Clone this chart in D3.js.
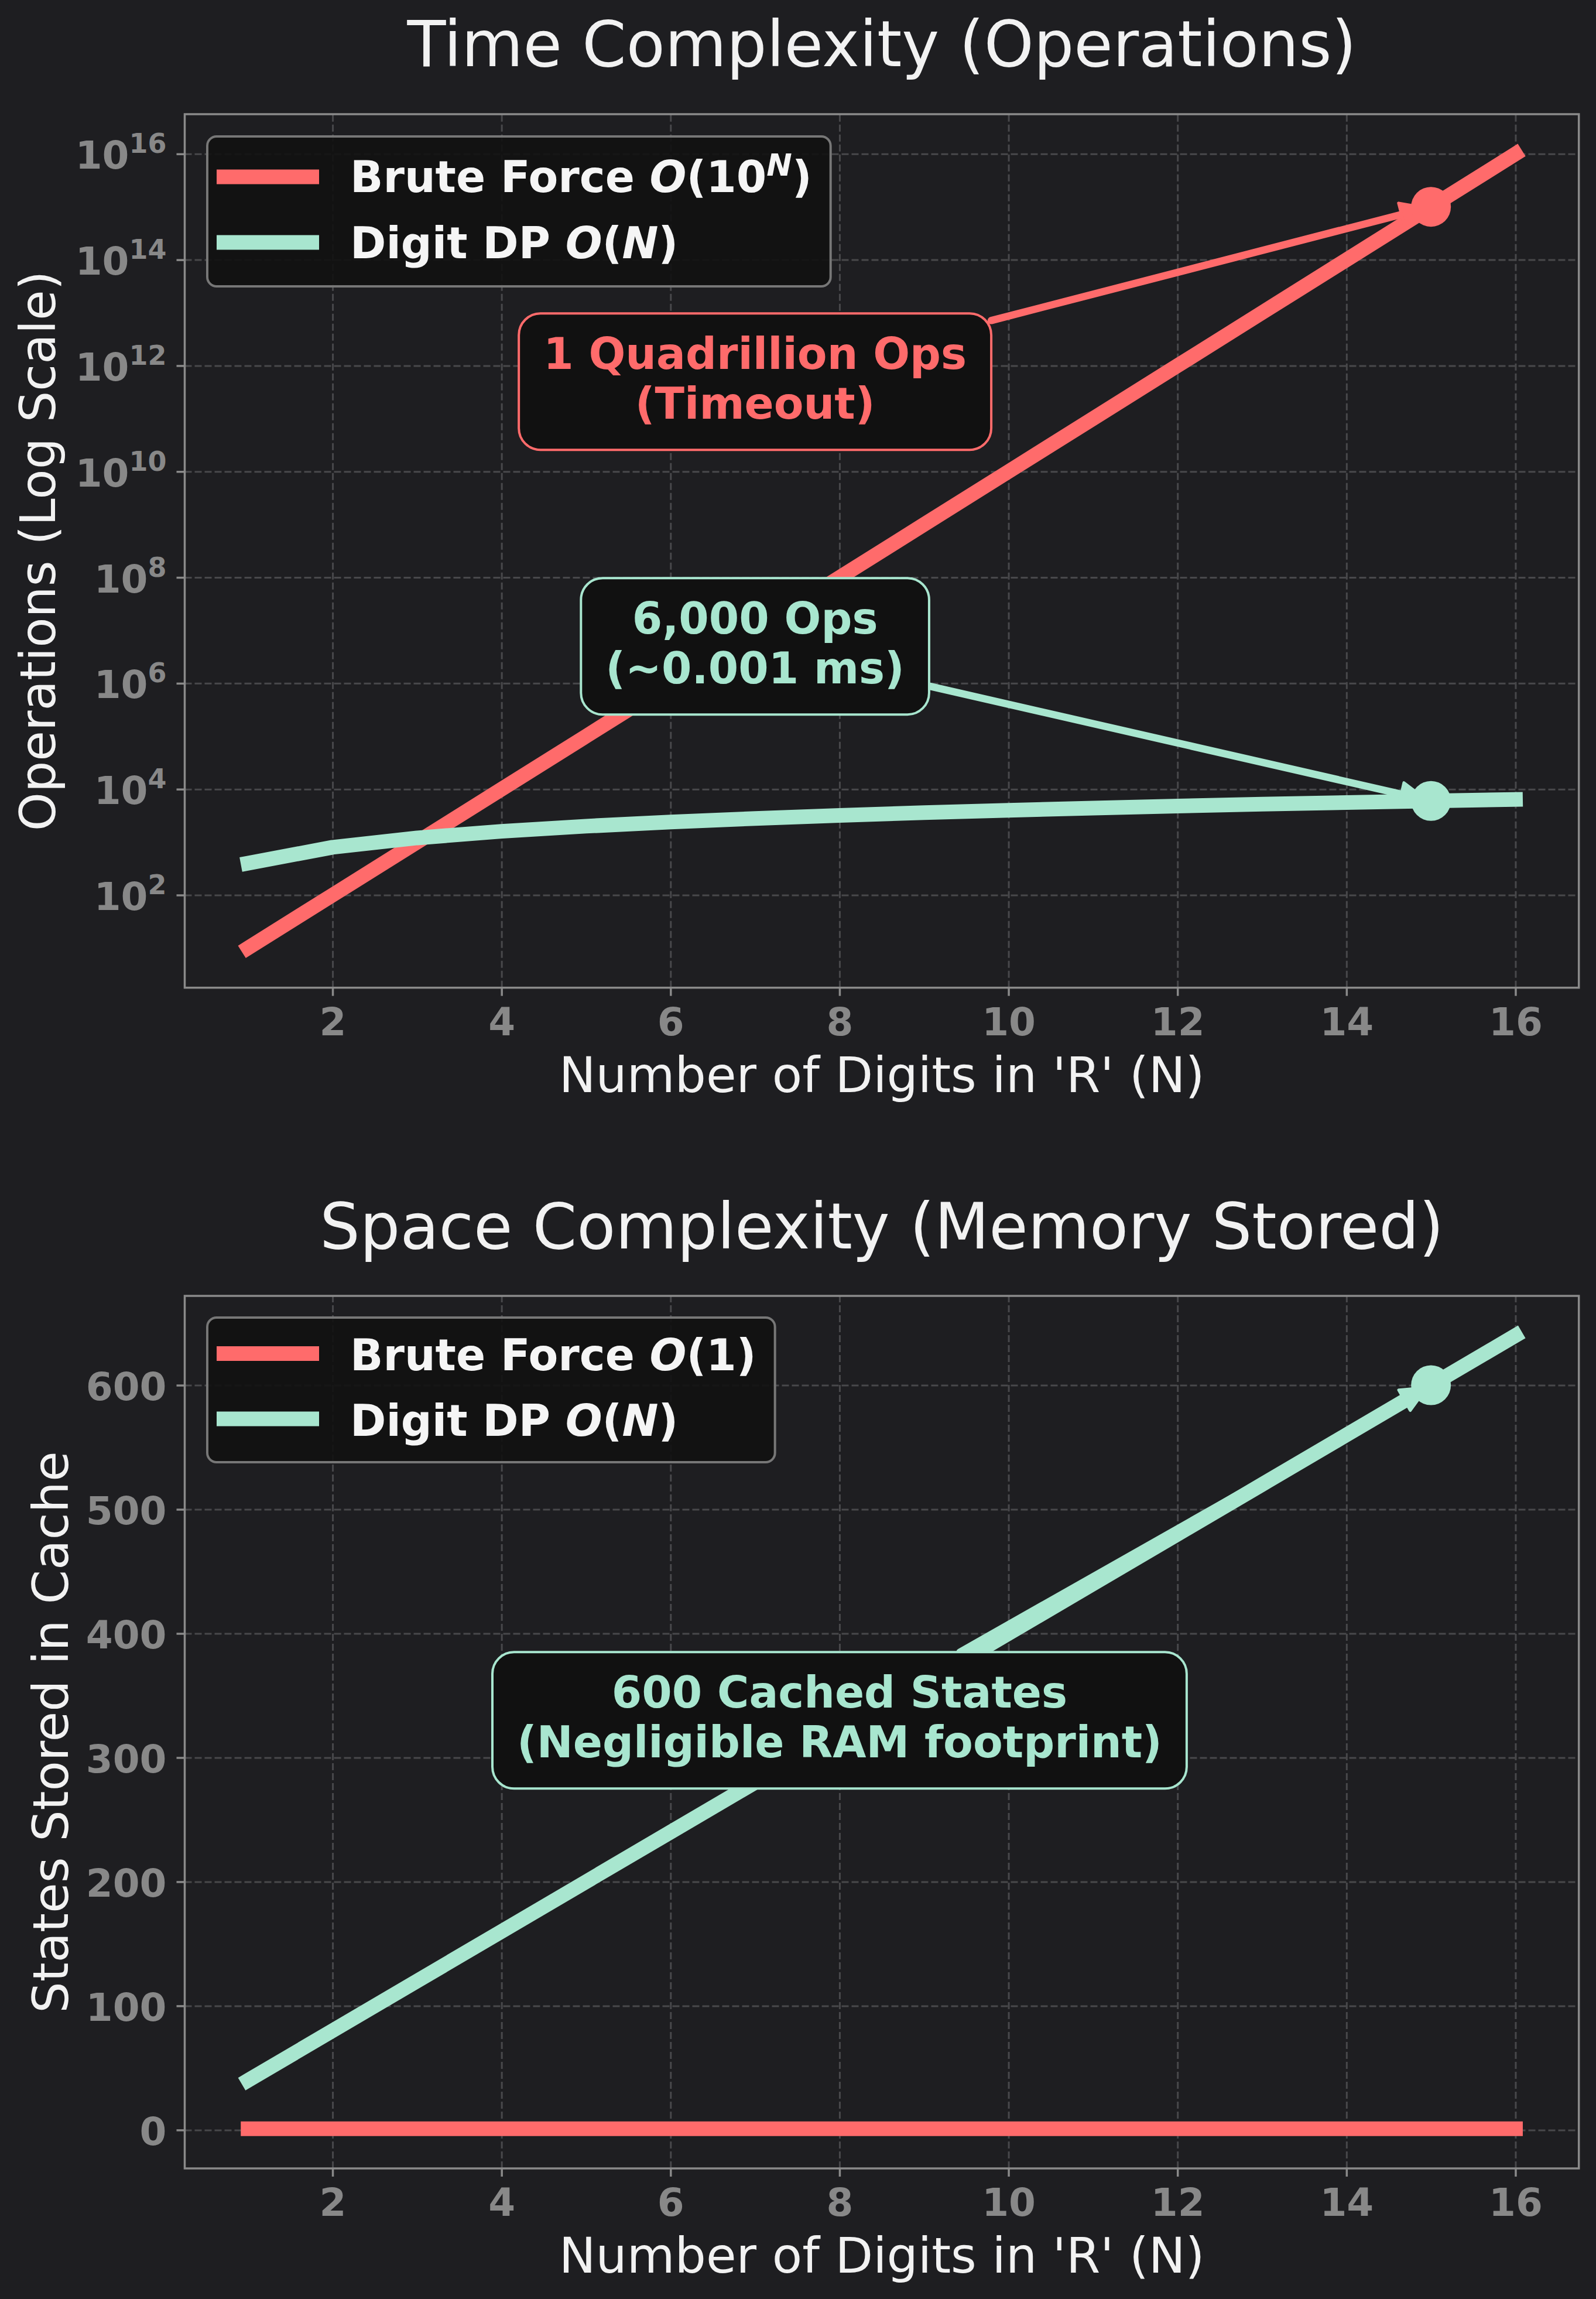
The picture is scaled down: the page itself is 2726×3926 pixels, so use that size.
<!DOCTYPE html>
<html>
<head>
<meta charset="utf-8">
<script src="https://cdn.jsdelivr.net/npm/d3@7/dist/d3.min.js"></script>
<style>
  body { margin: 0; background: #1e1e21; }
  svg  { display: block; font-family: "DejaVu Sans", sans-serif; }
</style>
</head>
<body>
<svg id="fig" width="2726" height="3926"></svg>
<script>
/* ---------- data ---------- */
var digits      = [1, 2, 3, 4, 5, 6, 7, 8, 9, 10, 11, 12, 13, 14, 15, 16];
var bruteOps    = [1e1, 1e2, 1e3, 1e4, 1e5, 1e6, 1e7, 1e8, 1e9, 1e10, 1e11, 1e12, 1e13, 1e14, 1e15, 1e16];
var dpOps       = [400, 800, 1200, 1600, 2000, 2400, 2800, 3200, 3600, 4000, 4400, 4800, 5200, 5600, 6000, 6400];
var bruteStates = [1, 1, 1, 1, 1, 1, 1, 1, 1, 1, 1, 1, 1, 1, 1, 1];
var dpStates    = [40, 80, 120, 160, 200, 240, 280, 320, 360, 400, 440, 480, 520, 560, 600, 640];

var xTicks      = [2, 4, 6, 8, 10, 12, 14, 16];
var logTicks    = [2, 4, 6, 8, 10, 12, 14, 16];      // exponents of 10
var stateTicks  = [0, 100, 200, 300, 400, 500, 600];

var timeNotes  = [
    { lines: ['1 Quadrillion Ops', '(Timeout)'],  n: 15, v: 1e15, tn: 7, tv: 5e11, series: 0 },
    { lines: ['6,000 Ops', '(~0.001 ms)'],        n: 15, v: 6000, tn: 7, tv: 5e6,  series: 1 }
];
var spaceNotes = [
    { lines: ['600 Cached States', '(Negligible RAM footprint)'], n: 15, v: 600, tn: 8, tv: 330, series: 1 }
];

/* ---------- style ---------- */
var RED = '#ff6b6b', TEAL = '#a8e6cf';
var COLORS = [RED, TEAL];
var BG = '#1e1e21', BOX = '#111111';
var GRID = '#48484b', SPINE = '#8a8a8a', TICK_TXT = '#888888', TXT = '#f2f2f2';

var svg = d3.select('#fig');
svg.append('rect').attr('width', 2726).attr('height', 3926).attr('fill', BG);

var X0 = 315.5, X1 = 2696.7;

// matplotlib-style 5% autoscale margin
function padded(lo, hi) { var m = (hi - lo) * 0.05; return [lo - m, hi + m]; }

var x = d3.scaleLinear().domain(padded(1, 16)).range([X0, X1]);

var logExt = padded(Math.log10(d3.min(bruteOps)), Math.log10(d3.max(bruteOps)));
var yTime = d3.scaleLog()
    .domain([Math.pow(10, logExt[0]), Math.pow(10, logExt[1])])
    .range([1686.7, 195]);

var yMem = d3.scaleLinear()
    .domain(padded(d3.min(bruteStates), d3.max(dpStates)))
    .range([3703, 2213]);

function drawPanel(cfg) {
    var y = cfg.y;
    var top = y.range()[1], bottom = y.range()[0];
    var g = svg.append('g');

    // grid
    g.append('g')
        .attr('transform', 'translate(0,' + bottom + ')')
        .call(d3.axisBottom(x).tickValues(xTicks).tickSize(-(bottom - top)).tickFormat(''))
        .call(function(s) { s.select('.domain').remove(); });
    g.append('g')
        .attr('transform', 'translate(' + X0 + ',0)')
        .call(d3.axisLeft(y).tickValues(cfg.yTicks).tickSize(-(X1 - X0)).tickFormat(''))
        .call(function(s) { s.select('.domain').remove(); });
    g.selectAll('.tick line')
        .attr('stroke', GRID).attr('stroke-width', 3).attr('stroke-dasharray', '12,5');

    // series lines
    var line = d3.line()
        .x(function(d, i) { return x(digits[i]); })
        .y(function(d) { return y(d); });
    cfg.series.forEach(function(vals, i) {
        g.append('path')
            .datum(vals)
            .attr('d', line)
            .attr('fill', 'none')
            .attr('stroke', COLORS[i])
            .attr('stroke-width', 25)
            .attr('stroke-linecap', 'square')
            .attr('stroke-linejoin', 'round');
    });

    // annotations
    cfg.notes.forEach(function(a) {
        var col = COLORS[a.series];
        var px = x(a.n), py = y(a.v);
        var cx = x(a.tn), cy = y(a.tv);

        var t = g.append('text')
            .attr('text-anchor', 'middle')
            .attr('font-size', 74).attr('font-weight', 'bold')
            .attr('fill', col);
        t.append('tspan').attr('x', cx).attr('y', cy - 21.5).text(a.lines[0]);
        t.append('tspan').attr('x', cx).attr('y', cy + 63.5).text(a.lines[1]);
        var wMax = 0;
        t.selectAll('tspan').each(function() { wMax = Math.max(wMax, this.getComputedTextLength()); });
        var hw = wMax / 2 + 42, hh = 116.5;

        // arrow from box edge towards the point
        var dx = px - cx, dy = py - cy;
        var k = Math.min(hw / Math.abs(dx), hh / Math.abs(dy));
        var sx = cx + dx * k, sy = cy + dy * k;
        var len = Math.sqrt(dx * dx + dy * dy);
        var ux = dx / len, uy = dy / len;
        var tipX = px - ux * 8, tipY = py - uy * 8;
        var backX = tipX - ux * 44, backY = tipY - uy * 44;

        var arrow = g.insert('g', function() { return t.node(); });
        arrow.append('line')
            .attr('x1', sx).attr('y1', sy).attr('x2', backX + ux * 4).attr('y2', backY + uy * 4)
            .attr('stroke', col).attr('stroke-width', 12.5).attr('stroke-linecap', 'round');
        arrow.append('path')
            .attr('d', 'M' + tipX + ',' + tipY +
                       'L' + (backX - uy * 20) + ',' + (backY + ux * 20) +
                       'L' + (backX + uy * 20) + ',' + (backY - ux * 20) + 'Z')
            .attr('fill', col).attr('stroke', col)
            .attr('stroke-width', 5).attr('stroke-linejoin', 'round');
        arrow.append('circle')
            .attr('cx', px).attr('cy', py).attr('r', 34).attr('fill', col);

        g.insert('rect', function() { return t.node(); })
            .attr('x', cx - hw).attr('y', cy - hh)
            .attr('width', hw * 2).attr('height', hh * 2)
            .attr('rx', 37).attr('ry', 37)
            .attr('fill', BOX).attr('stroke', col).attr('stroke-width', 4);
    });

    // spines
    g.append('rect')
        .attr('x', X0).attr('y', top)
        .attr('width', X1 - X0).attr('height', bottom - top)
        .attr('fill', 'none').attr('stroke', SPINE).attr('stroke-width', 3.5);

    // x axis
    var xa = g.append('g')
        .attr('transform', 'translate(0,' + bottom + ')')
        .call(d3.axisBottom(x).tickValues(xTicks).tickSize(14).tickPadding(6));
    xa.select('.domain').remove();
    xa.selectAll('.tick line').attr('stroke', SPINE).attr('stroke-width', 3.5);
    xa.selectAll('.tick text')
        .attr('dy', null).attr('y', 81)
        .attr('font-size', 66).attr('font-weight', 'bold')
        .attr('font-family', '"DejaVu Sans", sans-serif')
        .attr('fill', TICK_TXT);

    // y axis
    var ya = g.append('g')
        .attr('transform', 'translate(' + X0 + ',0)')
        .call(d3.axisLeft(y).tickValues(cfg.yTicks).tickSize(14).tickFormat(''));
    ya.select('.domain').remove();
    ya.selectAll('.tick line').attr('stroke', SPINE).attr('stroke-width', 3.5);
    ya.selectAll('.tick text').remove();
    ya.selectAll('.tick').each(function(d) {
        var lab = d3.select(this).append('text')
            .attr('x', -31).attr('y', 25)
            .attr('text-anchor', 'end')
            .attr('font-size', 66).attr('font-weight', 'bold')
            .attr('font-family', '"DejaVu Sans", sans-serif')
            .attr('fill', TICK_TXT);
        if (cfg.log) {
            lab.append('tspan').text('10');
            lab.append('tspan').attr('font-size', 46).attr('dy', -27).text(Math.round(Math.log10(d)));
        } else {
            lab.text(d);
        }
    });

    // titles and labels
    var mid = (X0 + X1) / 2;
    g.append('text')
        .attr('x', mid).attr('y', cfg.titleY)
        .attr('text-anchor', 'middle').attr('font-size', 108).attr('fill', TXT)
        .text(cfg.title);
    g.append('text')
        .attr('x', mid).attr('y', bottom + 178)
        .attr('text-anchor', 'middle').attr('font-size', 84).attr('fill', TXT)
        .text("Number of Digits in 'R' (N)");
    g.append('text')
        .attr('transform', 'translate(' + cfg.yLabelX + ',' + ((top + bottom) / 2) + ') rotate(-90)')
        .attr('text-anchor', 'middle').attr('font-size', 84).attr('fill', TXT)
        .text(cfg.yLabel);

    // legend
    var L = cfg.legend;
    var lg = g.append('g');
    var box = lg.append('rect')
        .attr('x', 354).attr('y', top + L.top)
        .attr('height', L.bottom - L.top)
        .attr('rx', 16).attr('ry', 16)
        .attr('fill', BOX).attr('fill-opacity', 0.9)
        .attr('stroke', '#777777').attr('stroke-width', 4);
    var wMax = 0;
    L.items.forEach(function(it, i) {
        lg.append('line')
            .attr('x1', 370).attr('x2', 545)
            .attr('y1', top + L.rows[i]).attr('y2', top + L.rows[i])
            .attr('stroke', COLORS[i]).attr('stroke-width', 25);
        var tx = lg.append('text')
            .attr('x', 598).attr('y', top + L.base[i])
            .attr('font-size', 74).attr('font-weight', 'bold').attr('fill', '#f5f5f5');
        it.forEach(function(part) {
            var ts = tx.append('tspan').text(part.t);
            if (part.i) ts.attr('font-style', 'italic');
            if (part.sup) ts.attr('font-size', 52).attr('dy', -28);
            if (part.down) ts.attr('dy', 28);
        });
        wMax = Math.max(wMax, tx.node().getComputedTextLength());
    });
    box.attr('width', 598 + wMax + 32 - 354);
}

drawPanel({
    y: yTime, log: true,
    yTicks: logTicks.map(function(e) { return Math.pow(10, e); }),
    series: [bruteOps, dpOps],
    notes: timeNotes,
    title: 'Time Complexity (Operations)', titleY: 113,
    yLabel: 'Operations (Log Scale)', yLabelX: 94,
    legend: {
        top: 38, bottom: 294, rows: [107, 219], base: [133, 246],
        items: [
            [{ t: 'Brute Force ' }, { t: 'O', i: true }, { t: '(10' }, { t: 'N', i: true, sup: true }, { t: ')', down: true }],
            [{ t: 'Digit DP ' }, { t: 'O', i: true }, { t: '(' }, { t: 'N', i: true }, { t: ')' }]
        ]
    }
});

drawPanel({
    y: yMem, log: false,
    yTicks: stateTicks,
    series: [bruteStates, dpStates],
    notes: spaceNotes,
    title: 'Space Complexity (Memory Stored)', titleY: 2132,
    yLabel: 'States Stored in Cache', yLabelX: 116,
    legend: {
        top: 37, bottom: 284, rows: [98.5, 210], base: [127, 239],
        items: [
            [{ t: 'Brute Force ' }, { t: 'O', i: true }, { t: '(1)' }],
            [{ t: 'Digit DP ' }, { t: 'O', i: true }, { t: '(' }, { t: 'N', i: true }, { t: ')' }]
        ]
    }
});
</script>
</body>
</html>
